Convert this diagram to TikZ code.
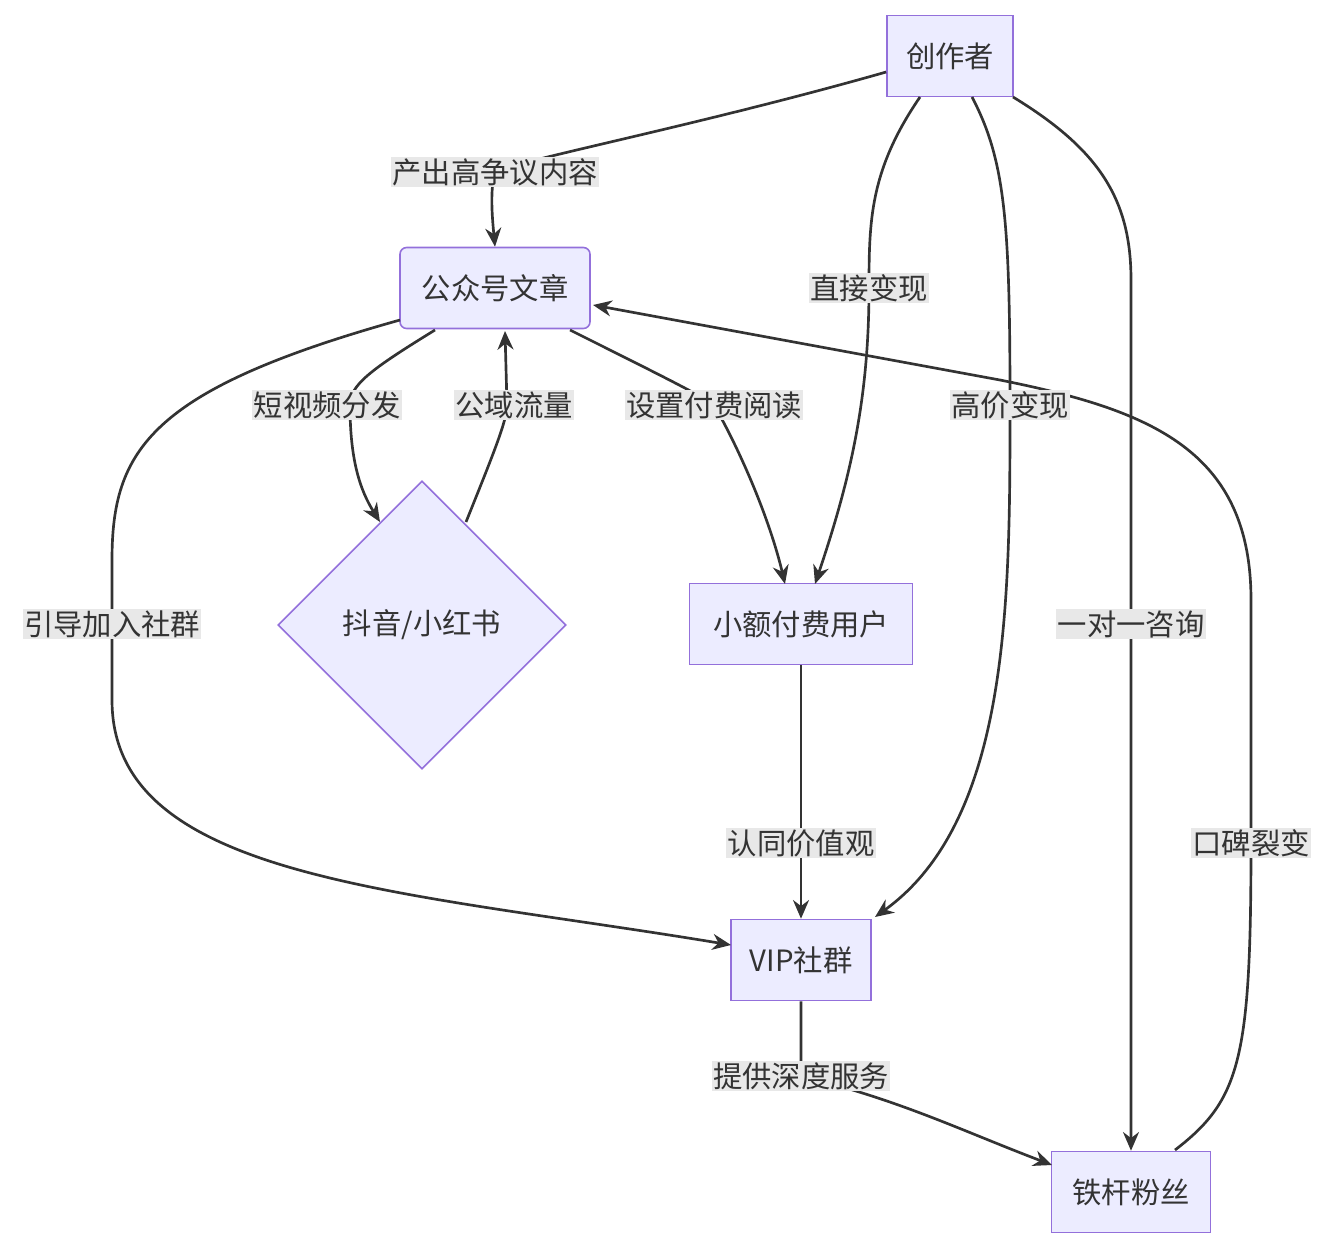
\documentclass[tikz,border=0pt]{standalone}
\usepackage{fontspec}
\setmainfont{Noto Sans CJK SC}
\usetikzlibrary{arrows.meta, shapes.geometric, positioning}
\definecolor{nodefill}{HTML}{ECECFF}
\definecolor{nodeline}{HTML}{9370DB}
\definecolor{edgeline}{HTML}{333333}
\definecolor{labelfill}{HTML}{E8E8E8}
\tikzset{
    box/.style={draw=nodeline, fill=nodefill, line width=1.2pt, minimum height=81*0.75pt, inner sep=0pt, font=\fontsize{22}{26}\selectfont, text=edgeline},
    decision/.style={diamond, draw=nodeline, fill=nodefill, line width=1.2pt, minimum width=288*0.75pt, minimum height=288*0.75pt, inner sep=0pt, font=\fontsize{22}{26}\selectfont, text=edgeline, aspect=1},
    lbl/.style={fill=labelfill, inner sep=1pt, font=\fontsize{22}{26}\selectfont, text=edgeline},
    flow/.style={draw=edgeline, line width=2pt, -{Stealth[length=14pt, width=12pt]}}
}
\begin{document}
\begin{tikzpicture}[x=0.75pt, y=-0.75pt]
    \useasboundingbox (0,0) rectangle (1332,1250);
    % nodes
    \node[box, minimum width=126*0.75pt] (creator) at (950,56) {创作者};
    \node[box, rounded corners=5pt, minimum width=190*0.75pt] (article) at (495,288) {公众号文章};
    \node[decision] (douyin) at (422,625) {抖音/小红书};
    \node[box, minimum width=223*0.75pt] (paid) at (801,624) {小额付费用户};
    \node[box, minimum width=140*0.75pt] (vip) at (801,960) {VIP社群};
    \node[box, minimum width=159*0.75pt] (fans) at (1131,1192) {铁杆粉丝};

    % label anchors
    \coordinate (l1) at (495,172);
    \coordinate (l2) at (869,288);
    \coordinate (l3) at (1010,405);
    \coordinate (l4) at (1131,624);
    \coordinate (l5) at (350,405);
    \coordinate (l6) at (507,405);
    \coordinate (l7) at (714,405);
    \coordinate (l8) at (112,624);
    \coordinate (l9) at (801,843);
    \coordinate (l10) at (801,1076);
    \coordinate (l11) at (1251,843);

    % connectors
    \draw[flow] (creator.west |- 0,72) .. controls (700,125) and (520,160) .. (l1) .. controls (490,190) and (492,215) .. (article.north);
    \draw[flow] (920,97) .. controls (870,170) and (869,220) .. (l2) .. controls (869,400) and (850,480) .. (815,584);
    \draw[flow] (972,97) .. controls (1005,160) and (1010,220) .. (l3) .. controls (1010,600) and (1010,820) .. (875,917);
    \draw[flow] (1013,97) .. controls (1100,150) and (1131,200) .. (1131,280) -- (l4) -- (fans.north);
    \draw[flow] (435,330) .. controls (370,370) and (350,385) .. (l5) .. controls (350,460) and (360,490) .. (380,522);
    \draw[flow] (466,522) .. controls (495,450) and (507,420) .. (l6) -- (505,331);
    \draw[flow] (570,330) .. controls (670,380) and (700,395) .. (l7) .. controls (740,450) and (770,520) .. (785,584);
    \draw[flow] (400,320) .. controls (150,390) and (112,450) .. (112,560) -- (l8) -- (112,700) .. controls (112,880) and (400,890) .. (731,945);
    \draw[flow] (paid.south) -- (l9) -- (vip.north);
    \draw[flow] (vip.south) .. controls (801,1050) and (801,1060) .. (l10) .. controls (900,1100) and (960,1130) .. (1052,1165);
    \draw[flow] (1175,1150) .. controls (1240,1100) and (1251,1060) .. (l11) -- (1251,600) .. controls (1251,450) and (1150,410) .. (1000,380) -- (593,305);

    % labels
    \node[lbl] at (l1) {产出高争议内容};
    \node[lbl] at (l2) {直接变现};
    \node[lbl] at (l3) {高价变现};
    \node[lbl] at (l4) {一对一咨询};
    \node[lbl] at (327,405) {短视频分发};
    \node[lbl] at (514,405) {公域流量};
    \node[lbl] at (l7) {设置付费阅读};
    \node[lbl] at (l8) {引导加入社群};
    \node[lbl] at (l9) {认同价值观};
    \node[lbl] at (l10) {提供深度服务};
    \node[lbl] at (l11) {口碑裂变};
\end{tikzpicture}
\end{document}
